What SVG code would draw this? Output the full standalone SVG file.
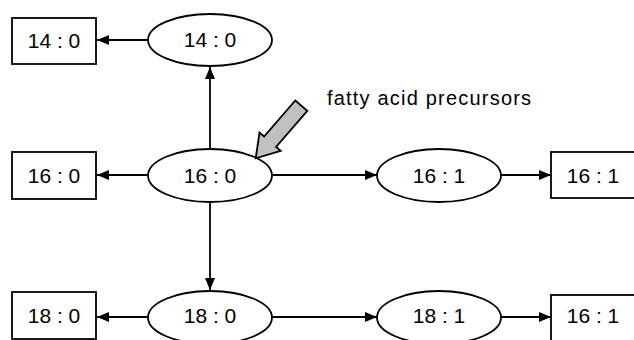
<svg xmlns="http://www.w3.org/2000/svg" width="634" height="340" viewBox="0 0 634 340">
<defs>
<style>
.n{fill:#fff;stroke:#000;stroke-width:1.8}
.t{font-family:"Liberation Sans",Arial,sans-serif;font-size:21px;fill:#000;text-anchor:middle}
.c line{stroke:#000;stroke-width:1.8;marker-end:url(#ah)}
</style>
<marker id="ah" markerUnits="userSpaceOnUse" markerWidth="12" markerHeight="10" refX="12" refY="5" orient="auto">
<path d="M0,0 L12,5 L0,10 z" fill="#000"/>
</marker>
</defs>
<rect width="634" height="340" fill="#fff"/>
<g class="c" id="connectors">
<line x1="148" y1="40" x2="97" y2="40"/>
<line x1="210" y1="149" x2="210" y2="67"/>
<line x1="148" y1="175" x2="97" y2="175"/>
<line x1="272" y1="175" x2="377" y2="175"/>
<line x1="501" y1="175" x2="551" y2="175"/>
<line x1="210" y1="202" x2="210" y2="290"/>
<line x1="148" y1="317" x2="97" y2="317"/>
<line x1="272" y1="317" x2="377" y2="317"/>
<line x1="501" y1="317" x2="551" y2="317"/>
</g>
<g id="box14_0"><rect class="n" x="12" y="18" width="84" height="46"/><text class="t" x="54" y="48">14 : 0</text></g>
<g id="ell14_0"><ellipse class="n" cx="210" cy="40" rx="62" ry="26"/><text class="t" x="210" y="47">14 : 0</text></g>
<g id="box16_0"><rect class="n" x="12" y="152" width="84" height="47"/><text class="t" x="54" y="183">16 : 0</text></g>
<g id="ell16_0"><ellipse class="n" cx="210" cy="175.5" rx="62" ry="26.5"/><text class="t" x="210" y="183">16 : 0</text></g>
<g id="ell16_1"><ellipse class="n" cx="439" cy="175.5" rx="62" ry="26.5"/><text class="t" x="439" y="183">16 : 1</text></g>
<g id="box16_1a"><rect class="n" x="551" y="152" width="100" height="46"/><text class="t" x="593" y="183">16 : 1</text></g>
<g id="box18_0"><rect class="n" x="12" y="292" width="84" height="47"/><text class="t" x="54" y="323">18 : 0</text></g>
<g id="ell18_0"><ellipse class="n" cx="210" cy="317.5" rx="62" ry="26.5"/><text class="t" x="210" y="323">18 : 0</text></g>
<g id="ell18_1"><ellipse class="n" cx="439" cy="317.5" rx="62" ry="26.5"/><text class="t" x="439" y="323">18 : 1</text></g>
<g id="box16_1b"><rect class="n" x="551" y="295" width="100" height="60"/><text class="t" x="593" y="323">16 : 1</text></g>
<g id="precursor">
<polygon points="295.3,100.5 307.3,110.9 276.1,146.9 280.7,150.9 255.7,158.3 259.5,132.5 264.1,136.5" fill="#c0c0c0" stroke="#000" stroke-width="1.8" stroke-linejoin="miter"/>
<text x="327" y="105" style="font-family:'Liberation Sans',Arial,sans-serif;font-size:20px;letter-spacing:1.2px" fill="#000">fatty acid precursors</text>
</g>
</svg>
